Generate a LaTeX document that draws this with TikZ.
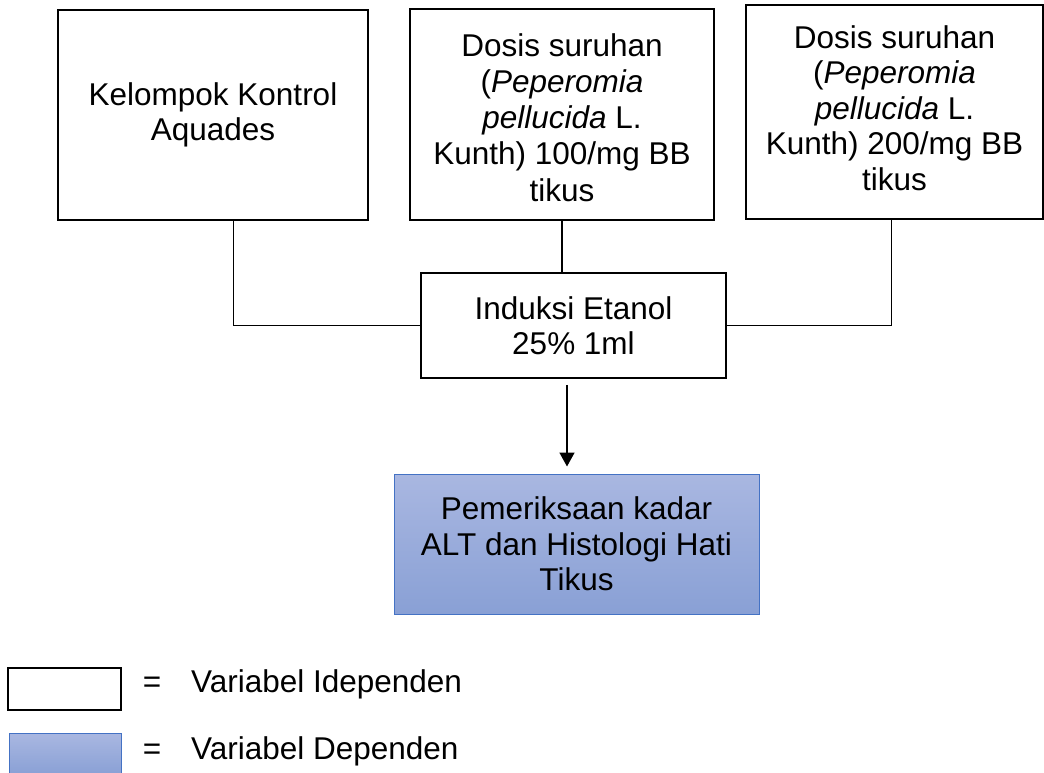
\documentclass[tikz,border=0pt]{standalone}
\usepackage{fontspec}
\setmainfont{Liberation Sans}
\usetikzlibrary{arrows.meta,calc}
\definecolor{bluetop}{RGB}{169,183,225}
\definecolor{bluebot}{RGB}{137,160,213}
\definecolor{blueborder}{RGB}{68,114,196}
\begin{document}
\begin{tikzpicture}[x=1pt,y=-1pt,
  txt/.style={font=\fontsize{31.5}{35.5}\selectfont, align=center, inner sep=0pt},
  ibox/.style={txt, draw=black, line width=1.6pt, fill=white},
  dbox/.style={txt, draw=blueborder, line width=1pt, top color=bluetop, bottom color=bluebot},
  thinline/.style={line width=0.9pt},
  midline/.style={line width=1.6pt},
  arrowline/.style={line width=1.6pt, -{Triangle[width=15pt,length=14pt]}}
]
\useasboundingbox (0,0) rectangle (1044,773);

\node[ibox, minimum width=310pt, minimum height=210pt] (b1) at (213,115)
  {Kelompok Kontrol\\Aquades};
\node[ibox, minimum width=304pt, minimum height=211pt,
  label={[txt, font=\fontsize{31.5}{36.2}\selectfont, yshift=-3pt]center:{Dosis suruhan\\(\textit{Peperomia}\\\textit{pellucida} L.\\Kunth) 100/mg BB\\tikus}}] (b2) at (562,114.5) {};
\node[ibox, minimum width=297pt, minimum height=214pt,
  label={[txt, yshift=4pt]center:{Dosis suruhan\\(\textit{Peperomia}\\\textit{pellucida} L.\\Kunth) 200/mg BB\\tikus}}] (b3) at (894.5,112) {};
\node[ibox, minimum width=305pt, minimum height=105pt] (ind) at (573.5,325.5)
  {Induksi Etanol\\25\% 1ml};
\node[dbox, minimum width=365pt, minimum height=140pt] (dep) at (576.5,544)
  {Pemeriksaan kadar\\ALT dan Histologi Hati\\Tikus};

\coordinate (j1) at (233,327);
\coordinate (j3) at (891,327);
\coordinate (ax) at (567,0);
\draw[thinline] (b1.south -| j1) |- (ind.west);
\draw[thinline] (b3.south -| j3) |- (ind.east);
\draw[midline] (b2.south) -- (b2.south |- ind.north);
\draw[arrowline] ($(ind.south -| ax)+(0,6)$) -- ($(dep.north -| ax)+(0,-7)$);

\node[ibox, minimum width=113pt, minimum height=42pt] (l1) at (64.5,689) {};
\node[dbox, minimum width=112pt, minimum height=42pt] (l2) at (65,754) {};
\node[txt, anchor=base] (e1) at (152,692) {=};
\node[txt, anchor=base] (e2) at (152,759) {=};
\node[txt, anchor=base west] (t1) at (191,692) {Variabel Idependen};
\node[txt, anchor=base west] (t2) at (191,759) {Variabel Dependen};
\end{tikzpicture}
\end{document}
